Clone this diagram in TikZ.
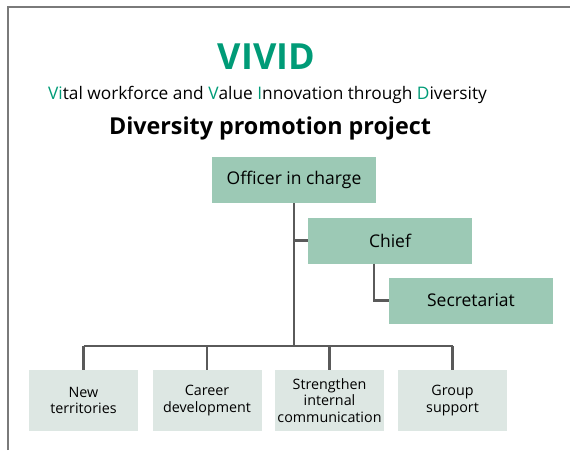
\documentclass[tikz,border=0pt]{standalone}
\usepackage{fontspec}
\setmainfont{Open Sans}
\usetikzlibrary{positioning}
\definecolor{vividgreen}{HTML}{009B77}
\definecolor{boxgreen}{HTML}{9CC9B5}
\definecolor{boxgrey}{HTML}{DDE7E3}
\definecolor{linegrey}{HTML}{5A5A5A}
\definecolor{framegrey}{HTML}{7A7A7A}
\newcommand{\hl}[1]{\textcolor{vividgreen}{#1}}

\begin{document}
\begin{tikzpicture}[x=1pt,y=-1pt,
  topbox/.style={fill=boxgreen, minimum width=164pt, minimum height=46pt, inner sep=0pt, font=\fontsize{17.5}{20}\selectfont},
  unitbox/.style={fill=boxgrey, minimum width=109pt, minimum height=61pt, align=center, inner sep=0pt, font=\fontsize{14.3}{16.5}\selectfont},
  link/.style={draw=linegrey, line width=2.4pt},
  heading/.style={anchor=base, inner sep=0pt}
]
\useasboundingbox (0,0) rectangle (570,450);
\draw[framegrey, line width=1.5pt] (8,450) -- (8,7) -- (570,7);

% headings
\node[heading, text=vividgreen, font=\bfseries\fontsize{36}{40}\selectfont] (title) at (266.5,69) {VIVID};
\node[heading, font=\fontsize{17.3}{20}\selectfont] (subtitle) at (267.5,99.5)
  {\hl{Vi}tal workforce and \hl{V}alue \hl{I}nnovation through \hl{D}iversity};
\node[heading, font=\bfseries\fontsize{23.3}{26}\selectfont] (project) at (270,134) {Diversity promotion project};

% management
\node[topbox] (officer)     at (294,180)   {Officer in charge};
\node[topbox] (chief)       at (390,240.5) {Chief};
\node[topbox] (secretariat) at (471,300.5) {Secretariat};

% units
\node[unitbox] (u1) at (83.5,400.5) {New\\territories};
\node[unitbox] (u2) at (207,400.5)  {Career\\development};
\node[unitbox] (u3) at (329.5,400.5) {Strengthen\\internal\\communication};
\node[unitbox] (u4) at (452.5,400.5) {Group\\support};

\coordinate (bus) at (294,346);
\draw[link] (officer.south) -- (bus);
\draw[link] (officer.south |- chief.west) -- (chief.west);
\draw[link] ([xshift=-16pt]chief.south) |- (secretariat.west);
\draw[link] (u1.north |- bus) -- (u4.north |- bus);
\foreach \u in {1,...,4}
  \draw[link] (u\u.north |- bus) -- (u\u.north);
\end{tikzpicture}
\end{document}
